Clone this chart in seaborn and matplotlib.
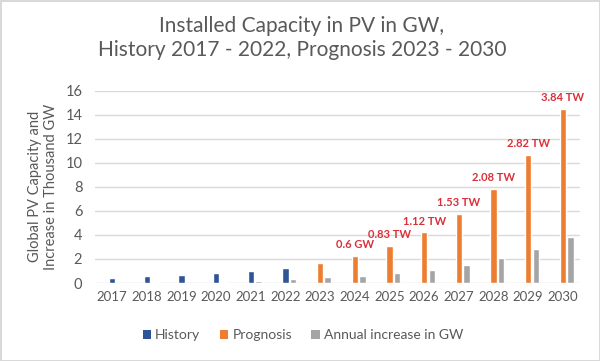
import matplotlib
matplotlib.use("Agg")
import matplotlib.pyplot as plt
from matplotlib.patches import Patch
import seaborn as sns
import pandas as pd
import numpy as np

# ---- data ----
history_years = [2017, 2018, 2019, 2020, 2021, 2022]
history_values = [0.45, 0.60, 0.67, 0.80, 1.00, 1.27]
prognosis_years = [2023, 2024, 2025, 2026, 2027, 2028, 2029, 2030]
prognosis_values = [1.67, 2.27, 3.10, 4.22, 5.75, 7.83, 10.65, 14.49]
annual_years = [2018, 2020, 2021, 2022, 2023, 2024, 2025, 2026, 2027, 2028, 2029, 2030]
annual_values = [0.10, 0.10, 0.20, 0.30, 0.47, 0.60, 0.83, 1.12, 1.53, 2.08, 2.82, 3.84]
label_years = [2024, 2025, 2026, 2027, 2028, 2029, 2030]
label_texts = ["0.6 GW", "0.83 TW", "1.12 TW", "1.53 TW", "2.08 TW", "2.82 TW", "3.84 TW"]
tick_years = list(range(2017, 2031))
series_names = ["History", "Prognosis", "Annual increase in GW"]

colors = {"History": "#2F5597", "Prognosis": "#ED7D31", "Annual increase in GW": "#A5A5A5"}
text_gray = "#595959"

main_df = pd.DataFrame({
    "Year": history_years + prognosis_years,
    "Value": history_values + prognosis_values,
    "Series": ["History"] * len(history_years) + ["Prognosis"] * len(prognosis_years),
})
annual_df = pd.DataFrame({
    "Year": np.array(annual_years) + 0.22,
    "Value": annual_values,
    "Series": ["Annual increase in GW"] * len(annual_years),
})

sns.set_theme(style="white")
plt.rcParams["font.family"] = ["Lato", "DejaVu Sans"]

fig = plt.figure(figsize=(6.0, 3.61), dpi=100)
fig.patch.set_facecolor("white")
fig.patch.set_edgecolor("#d9d9d9")
fig.patch.set_linewidth(2)
ax = fig.add_axes([0.158, 0.216, 0.809, 0.533])

sns.barplot(data=main_df, x="Year", y="Value", hue="Series", palette=colors,
            native_scale=True, dodge=False, width=0.19, legend=False, ax=ax,
            saturation=1, zorder=3)
sns.barplot(data=annual_df, x="Year", y="Value", hue="Series", palette=colors,
            native_scale=True, dodge=False, width=0.19, legend=False, ax=ax,
            saturation=1, zorder=3)

ax.set_xlim(2016.5, 2030.5)
ax.set_ylim(0, 16)
ax.set_yticks(range(0, 17, 2))
ax.set_xticks(tick_years)
ax.set_xticklabels([str(y) for y in tick_years])
ax.grid(axis="y", color="#d9d9d9", linewidth=1, zorder=0)
ax.set_axisbelow(True)
for s in ax.spines.values():
    s.set_visible(False)
ax.tick_params(axis="both", length=0, colors=text_gray)
ax.tick_params(axis="x", labelsize=9.5, pad=6)
ax.tick_params(axis="y", labelsize=10.5, pad=9)
ax.set_xlabel("")
ax.set_ylabel("Global PV Capacity and\nIncrease in Thousand GW", fontsize=10.5,
              color=text_gray, labelpad=5)

prog_lookup = dict(zip(prognosis_years, prognosis_values))
for yr, txt in zip(label_years, label_texts):
    ax.annotate(txt, xy=(yr, prog_lookup[yr]), xytext=(0, 8), textcoords="offset points",
                ha="center", va="center", fontsize=8, fontweight="bold", color="#D9303A")

fig.text(0.503, 0.955, "Installed Capacity in PV in GW,\nHistory 2017 - 2022, Prognosis 2023 - 2030",
         ha="center", va="top", fontsize=15, color=text_gray, fontweight="normal",
         linespacing=1.25)

handles = [Patch(facecolor=colors[n], edgecolor="none") for n in series_names]
fig.legend(handles, series_names, loc="center", bbox_to_anchor=(0.505, 0.072), ncol=3,
           frameon=False, fontsize=10, handlelength=0.6, handleheight=0.6,
           handletextpad=0.3, columnspacing=1.4, labelcolor=text_gray)

fig.savefig("out.png", dpi=100, facecolor=fig.get_facecolor(), edgecolor=fig.get_edgecolor())
